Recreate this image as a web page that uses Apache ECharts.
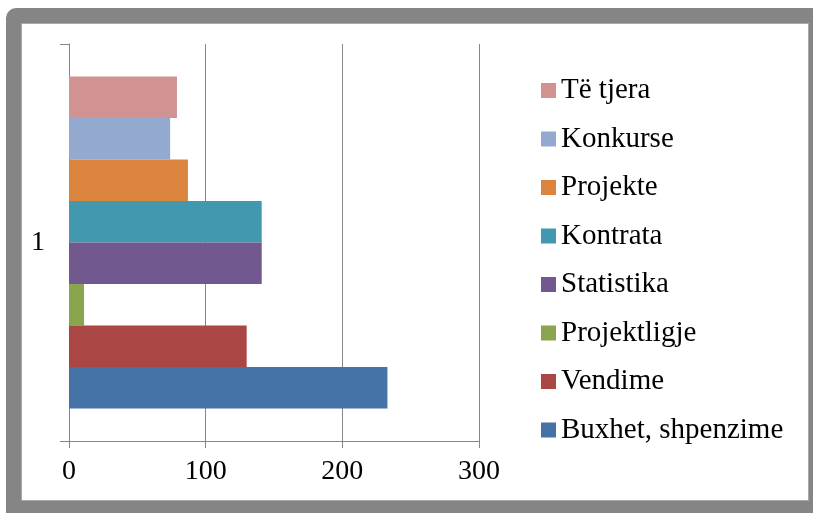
<!DOCTYPE html>
<html>
<head>
<meta charset="utf-8">
<script src="https://cdn.jsdelivr.net/npm/echarts@6/dist/echarts.min.js"></script>
<style>
html, body { margin: 0; padding: 0; background: #fff; overflow: hidden; }
.frame {
	position: absolute; left: 6px; top: 8px; width: 830px; height: 530px;
	background: #858585; border-radius: 10px;
}
.paper {
	position: absolute; left: 21px; top: 23px; width: 786px; height: 476px;
	background: #fff; border: 1px solid #a8a8a8;
}
#chart { position: absolute; left: 0; top: 0; width: 813px; height: 513px; }
</style>
</head>
<body>
<div class="frame"></div>
<div class="paper"></div>
<div id="chart"></div>
<script>
// series listed bottom bar first
var seriesNames = ['Buxhet, shpenzime', 'Vendime', 'Projektligje', 'Statistika', 'Kontrata', 'Projekte', 'Konkurse', 'Të tjera'];
var seriesValues = [233, 130, 11, 141, 141, 87, 74, 79];
var seriesColors = ['#4572A7', '#AA4643', '#89A54E', '#71588F', '#4198AF', '#DB843D', '#93A9CF', '#D19392'];
var categories = ['1'];
var xTicks = [0, 100, 200, 300];

var font = 'Liberation Serif';
var chartDom = document.getElementById('chart');
var myChart = echarts.init(chartDom);

// echarts puts the first series on top for horizontal bars, so add them reversed
var series = [];
for (var i = seriesNames.length - 1; i >= 0; i--) {
	series.push({
		name: seriesNames[i],
		type: 'bar',
		data: [seriesValues[i]],
		barGap: '0%',
		barCategoryGap: '16.4%',
		itemStyle: { color: seriesColors[i] },
		animation: false
	});
}

var option = {
	backgroundColor: 'transparent',
	textStyle: { fontFamily: font },
	grid: { left: 69, right: 334, top: 44, bottom: 72, containLabel: false },
	legend: {
		orient: 'vertical',
		left: 541,
		top: 76,
		padding: 0,
		itemWidth: 15,
		itemHeight: 15,
		itemGap: 19.5,
		icon: 'rect',
		data: seriesNames.slice().reverse(),
		textStyle: { fontFamily: font, fontSize: 29, color: '#000', lineHeight: 29 }
	},
	xAxis: {
		type: 'value',
		min: xTicks[0],
		max: xTicks[xTicks.length - 1],
		interval: 100,
		axisLine: { show: true, lineStyle: { color: '#868686', width: 1 } },
		axisTick: { show: true, length: 7, lineStyle: { color: '#868686' } },
		splitLine: { show: true, lineStyle: { color: '#868686', width: 1 } },
		axisLabel: { color: '#000', fontFamily: font, fontSize: 28, margin: 17 }
	},
	yAxis: {
		type: 'category',
		data: categories,
		axisLine: { show: true, lineStyle: { color: '#868686', width: 1 } },
		axisTick: { show: true, length: 9, lineStyle: { color: '#868686' } },
		axisLabel: { color: '#000', fontFamily: font, fontSize: 28, margin: 24 }
	},
	series: series
};
option && myChart.setOption(option);
</script>
</body>
</html>
